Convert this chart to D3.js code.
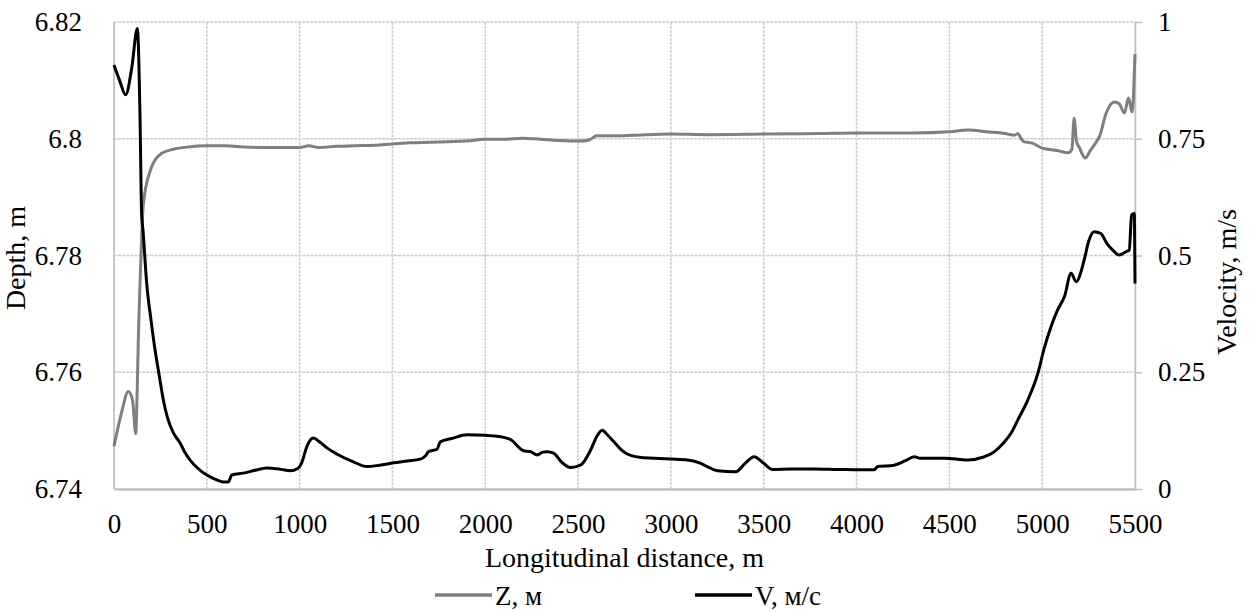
<!DOCTYPE html>
<html>
<head>
<meta charset="UTF-8">
<script src="https://d3js.org/d3.v7.min.js"></script>
<style>
  body { margin: 0; background: #fff; }
</style>
</head>
<body>
<svg id="chart" width="1249" height="612"></svg>
<script>
// depth Z (left axis)
const distZ = [0, 40, 77, 100, 117, 125, 131, 146, 158, 194, 257, 320, 400, 500, 600, 700, 800, 900, 1000,
  1050, 1100, 1200, 1300, 1400, 1500, 1600, 1700, 1800, 1900, 2000, 2100, 2200, 2300, 2400, 2500, 2560,
  2600, 2700, 2800, 3000, 3200, 3500, 3800, 4000, 4200, 4300, 4500, 4600, 4700, 4800, 4850, 4870, 4885,
  4900, 4950, 5000, 5080, 5140, 5160, 5172, 5185, 5200, 5232, 5260, 5280, 5310, 5345, 5389, 5415, 5443,
  5465, 5484, 5500];
const depthZ = [6.7473, 6.7530, 6.7567, 6.7552, 6.7495, 6.7570, 6.7655, 6.7804, 6.7887, 6.7944, 6.7975,
  6.7982, 6.7986, 6.7988, 6.7988, 6.7986, 6.7985, 6.7985, 6.7985, 6.7988, 6.7985, 6.7987, 6.7988, 6.7989,
  6.7991, 6.7993, 6.7994, 6.7995, 6.7996, 6.7999, 6.7999, 6.8001, 6.7999, 6.7997, 6.7996, 6.7998, 6.8005,
  6.8005, 6.8006, 6.8008, 6.8007, 6.8008, 6.8009, 6.8010, 6.8010, 6.8010, 6.8012, 6.8015, 6.8012, 6.8009,
  6.8006, 6.8009, 6.8001, 6.7995, 6.7992, 6.7984, 6.7980, 6.7976, 6.7982, 6.8035, 6.7995, 6.7985, 6.7967,
  6.7980, 6.7989, 6.8005, 6.8044, 6.8063, 6.8060, 6.8044, 6.8070, 6.8046, 6.8145];

// velocity V (right axis)
const distV = [0, 30, 63, 95, 126, 140, 149, 156, 176, 200, 221, 245, 266, 290, 320, 356, 380, 410, 450,
  480, 518, 550, 588, 615, 635, 696, 760, 823, 900, 949, 990, 1010, 1039, 1073, 1110, 1147, 1200, 1290,
  1363, 1430, 1506, 1580, 1650, 1680, 1694, 1740, 1758, 1820, 1902, 2000, 2064, 2136, 2206, 2244, 2280,
  2310, 2334, 2368, 2410, 2459, 2513, 2567, 2600, 2630, 2660, 2693, 2730, 2765, 2830, 2909, 3000, 3089,
  3161, 3210, 3251, 3349, 3400, 3448, 3500, 3547, 3650, 3772, 3900, 4078, 4094, 4114, 4202, 4260, 4311,
  4338, 4473, 4599, 4680, 4743, 4790, 4833, 4869, 4923, 4977, 5010, 5048, 5085, 5120, 5156, 5183, 5226,
  5250, 5280, 5316, 5350, 5379, 5415, 5451, 5469, 5482, 5496, 5500];
const velV = [0.908, 0.875, 0.844, 0.90, 0.986, 0.80, 0.587, 0.555, 0.441, 0.36, 0.298, 0.24, 0.19, 0.15,
  0.12, 0.0985, 0.08, 0.062, 0.045, 0.035, 0.026, 0.020, 0.015, 0.015, 0.030, 0.034, 0.040, 0.045, 0.042,
  0.039, 0.044, 0.055, 0.091, 0.109, 0.100, 0.088, 0.075, 0.058, 0.048, 0.051, 0.056, 0.060, 0.064, 0.072,
  0.080, 0.085, 0.101, 0.108, 0.116, 0.115, 0.113, 0.106, 0.082, 0.080, 0.073, 0.079, 0.080, 0.077, 0.058,
  0.046, 0.051, 0.083, 0.112, 0.126, 0.115, 0.101, 0.085, 0.075, 0.068, 0.066, 0.064, 0.062, 0.055, 0.045,
  0.039, 0.037, 0.055, 0.069, 0.055, 0.042, 0.043, 0.043, 0.042, 0.041, 0.041, 0.048, 0.051, 0.060, 0.069,
  0.066, 0.066, 0.062, 0.068, 0.080, 0.098, 0.120, 0.148, 0.191, 0.248, 0.300, 0.348, 0.385, 0.412, 0.462,
  0.444, 0.490, 0.530, 0.551, 0.547, 0.525, 0.512, 0.501, 0.508, 0.512, 0.587, 0.590, 0.440];

const xTicks = [0, 500, 1000, 1500, 2000, 2500, 3000, 3500, 4000, 4500, 5000, 5500];
const depthTicks = [6.74, 6.76, 6.78, 6.8, 6.82];
const velTicks = [0, 0.25, 0.5, 0.75, 1];

const serif = "'Liberation Serif', 'Times New Roman', Times, 'DejaVu Serif', serif";
const mLeft = 114, mRight = 1135, mTop = 22, mBottom = 489;
const svg = d3.select("#chart");

const x = d3.scaleLinear().domain([0, 5500]).range([mLeft, mRight]);
const yZ = d3.scaleLinear().domain([6.74, 6.82]).range([mBottom, mTop]);
const yV = d3.scaleLinear().domain([0, 1]).range([mBottom, mTop]);

// grid
const grid = svg.append("g").attr("stroke", "#cccccc").attr("stroke-width", 1.5).attr("stroke-dasharray", "3,1");
grid.selectAll(".gy").data(depthTicks.slice(1)).enter().append("line")
  .attr("x1", mLeft).attr("x2", mRight).attr("y1", d => yZ(d)).attr("y2", d => yZ(d));
grid.selectAll(".gx").data(xTicks).enter().append("line")
  .attr("x1", d => x(d)).attr("x2", d => x(d)).attr("y1", mTop).attr("y2", mBottom);

// left axis line
svg.append("line").attr("x1", mLeft).attr("x2", mLeft).attr("y1", mTop).attr("y2", mBottom)
  .attr("stroke", "#bfbfbf").attr("stroke-width", 1.5);

// bottom axis
const xAxis = svg.append("g").attr("transform", `translate(0,${mBottom})`)
  .call(d3.axisBottom(x).tickValues(xTicks).tickSize(0).tickFormat(d3.format("d")));
xAxis.select(".domain").attr("stroke", "#bfbfbf").attr("stroke-width", 2.5);
xAxis.selectAll("text").attr("y", 44).attr("dy", 0);

// left axis labels
const yAxisL = svg.append("g").attr("transform", `translate(${mLeft},0)`)
  .call(d3.axisLeft(yZ).tickValues(depthTicks).tickSize(0).tickPadding(32).tickFormat(d => String(+d.toFixed(2))));
yAxisL.select(".domain").remove();

// right axis
const yAxisR = svg.append("g").attr("transform", `translate(${mRight},0)`)
  .call(d3.axisRight(yV).tickValues(velTicks).tickSizeInner(7).tickSizeOuter(0).tickPadding(16).tickFormat(d => String(d)));
yAxisR.select(".domain").attr("stroke", "#bfbfbf").attr("stroke-width", 1.5);
yAxisR.selectAll("line").attr("stroke", "#bfbfbf").attr("stroke-width", 1.5);

[xAxis, yAxisL, yAxisR].forEach(a => {
  a.attr("font-family", serif).attr("font-size", 28);
  a.selectAll("text").style("font-family", serif).style("font-size", "27px").attr("fill", "#000");
});

// lines
const lineZ = d3.line().x((d, i) => x(distZ[i])).y(d => yZ(d)).curve(d3.curveMonotoneX);
const lineV = d3.line().x((d, i) => x(distV[i])).y(d => yV(d)).curve(d3.curveMonotoneX);

svg.append("path").datum(depthZ).attr("d", lineZ)
  .attr("fill", "none").attr("stroke", "#7f7f7f").attr("stroke-width", 3).attr("stroke-linejoin", "round");
svg.append("path").datum(velV).attr("d", lineV)
  .attr("fill", "none").attr("stroke", "#000").attr("stroke-width", 3).attr("stroke-linejoin", "round");

// titles
function title(sel) {
  return sel.style("font-family", serif).style("font-size", "28px").attr("fill", "#000");
}
title(svg.append("text")).attr("x", (mLeft + mRight) / 2).attr("y", 567)
  .attr("text-anchor", "middle").text("Longitudinal distance, m");
title(svg.append("text")).attr("transform", "translate(25,258) rotate(-90)")
  .attr("text-anchor", "middle").text("Depth, m");
title(svg.append("text")).attr("transform", "translate(1236,282) rotate(-90)")
  .attr("text-anchor", "middle").text("Velocity, m/s");

// legend
const legendItems = [
  { name: "Z, м", color: "#7f7f7f", x: 435 },
  { name: "V, м/c", color: "#000", x: 695 }
];
const lg = svg.selectAll(".lg").data(legendItems).enter().append("g")
  .attr("transform", d => `translate(${d.x},595)`);
lg.append("line").attr("x1", 0).attr("x2", 57).attr("stroke", d => d.color).attr("stroke-width", 3.5);
lg.append("text").attr("x", 60).attr("y", 10).style("font-family", serif).style("font-size", "27px")
  .attr("fill", "#000").text(d => d.name);
</script>
</body>
</html>
